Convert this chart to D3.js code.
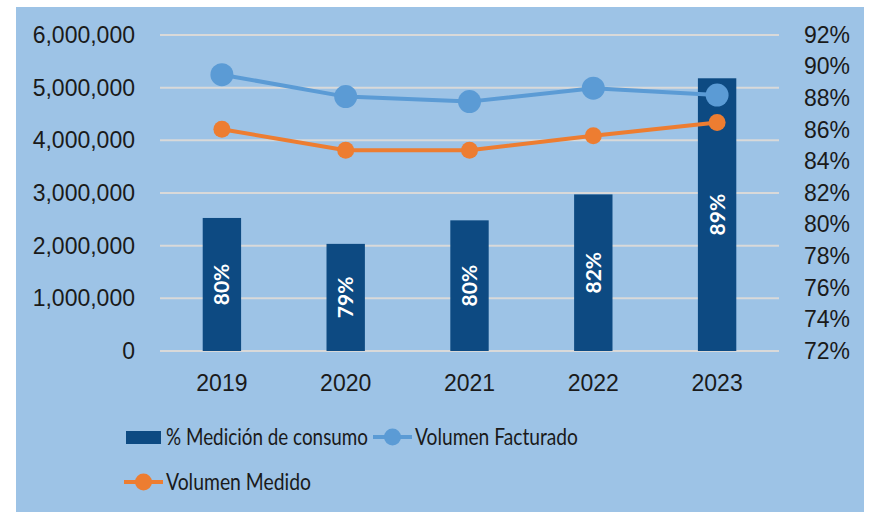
<!DOCTYPE html>
<html>
<head>
<meta charset="utf-8">
<script src="https://cdn.jsdelivr.net/npm/d3@7"></script>
<style>
  body { margin: 0; background: #fff; }
  svg { display: block; font-family: Lato, "Open Sans", sans-serif; }
</style>
</head>
<body>
<script>
var width = 876;
var height = 512;
var margin = {top: 35, right: 97, bottom: 161, left: 160};
var w = width - margin.left - margin.right;
var h = height - margin.top - margin.bottom;

// data
var years = ["2019", "2020", "2021", "2022", "2023"];
var pctMedicion = [0.8042, 0.7878, 0.8027, 0.8191, 0.8926];
var pctLabels = ["80%", "79%", "80%", "82%", "89%"];
var volFacturado = [5246000, 4830000, 4735000, 4990000, 4860000];
var volMedido = [4210000, 3810000, 3810000, 4085000, 4340000];
var leftTicks = [0, 1000000, 2000000, 3000000, 4000000, 5000000, 6000000];
var rightTicks = [0.72, 0.74, 0.76, 0.78, 0.80, 0.82, 0.84, 0.86, 0.88, 0.90, 0.92];

var colBar = "#0d4a82";
var colFact = "#5b9bd5";
var colMed = "#ed7d31";

var svg = d3.select("body").append("svg")
    .attr("width", width)
    .attr("height", height);

// panel background
svg.append("rect")
    .attr("x", 16).attr("y", 7)
    .attr("width", 848).attr("height", height - 7)
    .attr("fill", "#9dc3e6");

var chart = svg.append("g")
    .attr("transform", "translate(" + margin.left + "," + margin.top + ")");

var x = d3.scaleBand()
    .domain(years)
    .range([0, w])
    .paddingInner(0.69)
    .paddingOuter(0.345);

var y = d3.scaleLinear()
    .domain([0, 6000000])
    .range([h, 0]);

var y2 = d3.scaleLinear()
    .domain([0.72, 0.92])
    .range([h, 0]);

// gridlines
chart.append("g")
  .selectAll("line")
  .data(leftTicks)
  .enter().append("line")
    .attr("x1", 0).attr("x2", w)
    .attr("y1", function(d) { return y(d); })
    .attr("y2", function(d) { return y(d); })
    .attr("stroke", "#d9d9d9")
    .attr("stroke-width", 2);

// left axis
var yAxis = chart.append("g")
    .call(d3.axisLeft(y).tickValues(leftTicks).tickFormat(d3.format(",")).tickSize(0).tickPadding(25));
yAxis.select(".domain").remove();
yAxis.selectAll("text").attr("font-size", 23).attr("fill", "#1a1a1a").attr("font-family", null);

// right axis
var y2Axis = chart.append("g")
    .attr("transform", "translate(" + w + ",0)")
    .call(d3.axisRight(y2).tickValues(rightTicks).tickFormat(d3.format(".0%")).tickSize(0).tickPadding(25));
y2Axis.select(".domain").remove();
y2Axis.selectAll("text").attr("font-size", 23).attr("fill", "#1a1a1a").attr("font-family", null);

// x axis
var xAxis = chart.append("g")
    .attr("transform", "translate(0," + h + ")")
    .call(d3.axisBottom(x).tickSize(0).tickPadding(24));
xAxis.select(".domain").remove();
xAxis.selectAll("text").attr("font-size", 23).attr("fill", "#1a1a1a").attr("font-family", null);

// bars on the right axis
chart.selectAll("rect.bar")
    .data(years)
  .enter().append("rect")
    .attr("class", "bar")
    .attr("x", function(d) { return x(d); })
    .attr("width", x.bandwidth())
    .attr("y", function(d, i) { return y2(pctMedicion[i]); })
    .attr("height", function(d, i) { return h - y2(pctMedicion[i]); })
    .attr("fill", colBar);

chart.selectAll("text.barlabel")
    .data(years)
  .enter().append("text")
    .attr("class", "barlabel")
    .attr("transform", function(d, i) {
      var cy = (y2(pctMedicion[i]) + h) / 2;
      return "translate(" + (x(d) + x.bandwidth() / 2) + "," + cy + ") rotate(-90)";
    })
    .attr("text-anchor", "middle")
    .attr("dy", "0.36em")
    .attr("font-size", 21)
    .attr("font-weight", "bold")
    .attr("fill", "#fff")
    .text(function(d, i) { return pctLabels[i]; });

// lines
function drawLine(values, color, r) {
  var line = d3.line()
      .x(function(d, i) { return x(years[i]) + x.bandwidth() / 2; })
      .y(function(d) { return y(d); });
  chart.append("path")
      .datum(values)
      .attr("d", line)
      .attr("fill", "none")
      .attr("stroke", color)
      .attr("stroke-width", 4)
      .attr("stroke-linejoin", "round");
  chart.selectAll(null)
      .data(values)
    .enter().append("circle")
      .attr("cx", function(d, i) { return x(years[i]) + x.bandwidth() / 2; })
      .attr("cy", function(d) { return y(d); })
      .attr("r", r)
      .attr("fill", color);
}
drawLine(volFacturado, colFact, 11.5);
drawLine(volMedido, colMed, 8.5);

// legend (text squeezed to the narrow width of the original font)
var legend = svg.append("g").attr("font-size", 23.5).attr("fill", "#1a1a1a");

legend.append("rect")
    .attr("x", 126).attr("y", 431)
    .attr("width", 35).attr("height", 13)
    .attr("fill", colBar);
legend.append("text")
    .attr("x", 166).attr("y", 437).attr("dy", "0.35em")
    .attr("textLength", 202).attr("lengthAdjust", "spacingAndGlyphs")
    .text("% Medición de consumo");

function legendLine(x0, cy, color, r, label, len) {
  legend.append("line")
      .attr("x1", x0).attr("x2", x0 + 39)
      .attr("y1", cy).attr("y2", cy)
      .attr("stroke", color).attr("stroke-width", 4);
  legend.append("circle")
      .attr("cx", x0 + 19.5).attr("cy", cy).attr("r", r)
      .attr("fill", color);
  legend.append("text")
      .attr("x", x0 + 42).attr("y", cy).attr("dy", "0.35em")
      .attr("textLength", len).attr("lengthAdjust", "spacingAndGlyphs")
      .text(label);
}
legendLine(373, 437, colFact, 8.5, "Volumen Facturado", 163);
legendLine(124, 482, colMed, 8.5, "Volumen Medido", 145);
</script>
</body>
</html>
